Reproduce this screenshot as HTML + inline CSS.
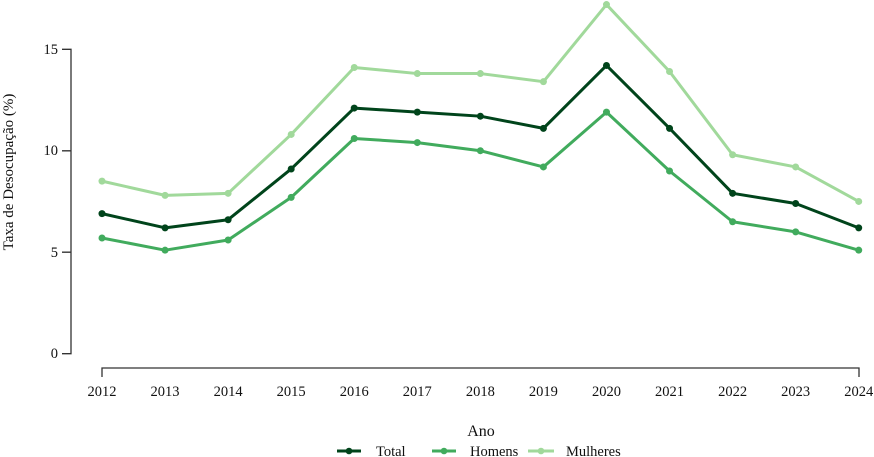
<!DOCTYPE html>
<html><head><meta charset="utf-8"><style>
html,body{margin:0;padding:0;background:#fff;}
svg{display:block;font-family:"Liberation Serif",serif;}
</style></head><body>
<svg id="s" width="874" height="457" xmlns="http://www.w3.org/2000/svg">
<g stroke="#333" stroke-width="1.3" fill="none">
<path d="M62,353.7H71V49.3H62M62,252.2H71M62,150.8H71"/>
<path d="M102,377V368H859V377"/>
</g>
<g font-size="14.5" fill="#111" text-anchor="end">
<text x="58" y="358">0</text><text x="58" y="257">5</text><text x="58" y="155">10</text><text x="58" y="54">15</text>
</g>
<text transform="translate(13,172) rotate(-90)" font-size="15" text-anchor="middle" fill="#111">Taxa de Desocupação (%)</text>
<text x="481" y="436" font-size="16" text-anchor="middle" fill="#111">Ano</text>
<g id="xl" font-size="14.5" fill="#111" text-anchor="middle"></g>
<g id="ser"></g>
<g font-size="14.5" fill="#111">
<line x1="337" y1="451" x2="361" y2="451" stroke="#00441b" stroke-width="3"/><circle cx="349" cy="451" r="3.3" fill="#00441b"/>
<text x="376" y="456">Total</text>
<line x1="432" y1="451" x2="456" y2="451" stroke="#41ab5d" stroke-width="3"/><circle cx="444" cy="451" r="3.3" fill="#41ab5d"/>
<text x="470" y="456">Homens</text>
<line x1="528" y1="451" x2="554" y2="451" stroke="#a1d99b" stroke-width="3"/><circle cx="541" cy="451" r="3.3" fill="#a1d99b"/>
<text x="566" y="456">Mulheres</text>
</g>
</svg>
<script>
var NS="http://www.w3.org/2000/svg";
function X(i){return 102+i*63.06;}
function Y(v){return 353.7-v*20.3;}
var xl=document.getElementById("xl");
for(var i=0;i<13;i++){var t=document.createElementNS(NS,"text");t.setAttribute("x",X(i));t.setAttribute("y",396);t.textContent=2012+i;xl.appendChild(t);}
var data=[
["#a1d99b",[8.5,7.8,7.9,10.8,14.1,13.8,13.8,13.4,17.2,13.9,9.8,9.2,7.5]],
["#41ab5d",[5.7,5.1,5.6,7.7,10.6,10.4,10.0,9.2,11.9,9.0,6.5,6.0,5.1]],
["#00441b",[6.9,6.2,6.6,9.1,12.1,11.9,11.7,11.1,14.2,11.1,7.9,7.4,6.2]]];
var g=document.getElementById("ser");
data.forEach(function(s){
 var p=document.createElementNS(NS,"polyline");
 p.setAttribute("points",s[1].map(function(v,i){return X(i)+","+Y(v);}).join(" "));
 p.setAttribute("fill","none");p.setAttribute("stroke",s[0]);p.setAttribute("stroke-width","3");p.setAttribute("stroke-linejoin","round");
 g.appendChild(p);
 s[1].forEach(function(v,i){var c=document.createElementNS(NS,"circle");c.setAttribute("cx",X(i));c.setAttribute("cy",Y(v));c.setAttribute("r","3.5");c.setAttribute("fill",s[0]);g.appendChild(c);});
});
</script>
</body></html>
